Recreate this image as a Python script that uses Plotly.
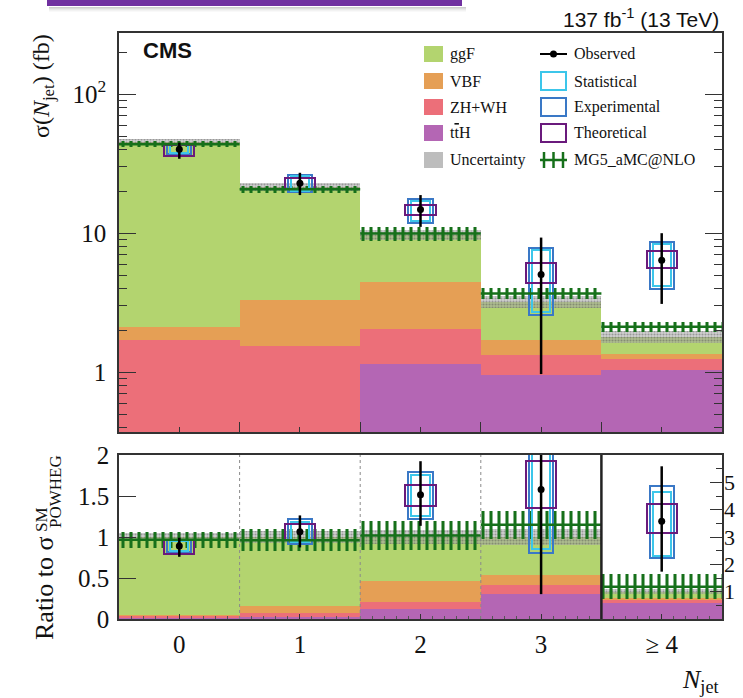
import numpy as np
import plotly.graph_objects as go

W, H = 743, 698

categories = ["0", "1", "2", "3", "≥ 4"]

# POWHEG prediction per production mode (fb)
tth = [0.15, 0.30, 1.14, 0.96, 1.03]
zh_wh = [1.55, 1.24, 0.92, 0.36, 0.21]
vbf = [0.41, 1.79, 2.41, 0.38, 0.12]
ggf = [43.1, 18.2, 5.3, 1.5, 0.43]
pred_unc_rel = [0.05, 0.07, 0.08, 0.10, 0.10]

# MG5_aMC@NLO prediction (fb) and its band half-widths (relative)
mg5 = [43.7, 20.7, 9.95, 3.68, 2.12]
mg5_unc_rel = [0.05, 0.06, 0.12, 0.09, 0.08]
mg5_ratio_unc_rel = [0.10, 0.14, 0.17, 0.15, 0.39]

# Measured cross sections (fb) with total uncertainty
observed = [40.2, 22.9, 14.8, 5.05, 6.4]
obs_lo = [34.3, 18.8, 11.1, 0.97, 3.1]
obs_hi = [44.8, 27.2, 18.8, 9.3, 10.0]

# Uncertainty components (lower / upper edge, fb)
stat_lo = [37.5, 20.2, 12.3, 2.72, 4.15]
stat_hi = [43.0, 25.6, 17.1, 7.55, 8.35]
exp_lo = [37.0, 19.7, 11.9, 2.57, 3.97]
exp_hi = [43.5, 26.2, 17.5, 7.84, 8.70]
theo_lo = [35.8, 20.7, 13.5, 4.35, 5.60]
theo_hi = [43.3, 25.0, 16.0, 6.15, 7.50]

C_GGF = "#b3d46f"
C_VBF = "#e59f55"
C_ZH = "#ec6f79"
C_TTH = "#b466b4"
C_STAT = "#3cc6ea"
C_EXP = "#3a78c6"
C_THEO = "#6a1a7c"
C_MG5 = "#16701a"
SERIF = "Liberation Serif"
SANS = "Liberation Sans"

x = np.arange(len(categories))
lvl_tth = np.array(tth)
lvl_zh = lvl_tth + np.array(zh_wh)
lvl_vbf = lvl_zh + np.array(vbf)
total = lvl_vbf + np.array(ggf)
u = np.array(pred_unc_rel)
mg = np.array(mg5)
obs = np.array(observed)


def px(v):
    return v / W


def py(v):
    return 1 - v / H


fig = go.Figure()


def draw(sel, norm, xa, ya, mg_rel):
    xs = x[sel]

    def n(a):
        return (np.asarray(a, dtype=float) / norm)[sel]

    common = dict(xaxis=xa, yaxis=ya, showlegend=False, hoverinfo="skip")
    # stacked production modes, drawn as cumulative levels back to front
    for level, col in [(total, C_GGF), (lvl_vbf, C_VBF), (lvl_zh, C_ZH), (lvl_tth, C_TTH)]:
        fig.add_trace(go.Bar(x=xs, y=n(level), width=1,
                             marker=dict(color=col, line=dict(width=0)), **common))
    # prediction uncertainty band
    fig.add_trace(go.Bar(x=xs, base=n(total * (1 - u)), y=n(2 * total * u), width=1,
                         marker=dict(color="rgba(170,170,170,0.55)", line=dict(width=0),
                                     pattern=dict(shape=".", fgcolor="rgba(70,70,70,0.8)",
                                                  size=3, solidity=0.4)),
                         **common))
    # MG5_aMC@NLO band (vertical hatching) and central value
    r = np.array(mg_rel)
    fig.add_trace(go.Bar(x=xs, base=n(mg * (1 - r)), y=n(2 * mg * r), width=1,
                         marker=dict(color="rgba(0,0,0,0)", line=dict(width=0),
                                     pattern=dict(shape="|", fgcolor=C_MG5, fgopacity=1,
                                                  bgcolor="rgba(0,0,0,0)",
                                                  size=8, solidity=0.38, fillmode="replace")),
                         **common))
    seg_x, seg_y = [], []
    for xi, yi in zip(xs, n(mg)):
        seg_x += [xi - 0.5, xi + 0.5, None]
        seg_y += [yi, yi, None]
    fig.add_trace(go.Scatter(x=seg_x, y=seg_y, mode="lines",
                             line=dict(color=C_MG5, width=2.5), **common))
    # uncertainty component boxes
    for lo, hi, col, wd in [(exp_lo, exp_hi, C_EXP, 0.20), (stat_lo, stat_hi, C_STAT, 0.15),
                            (theo_lo, theo_hi, C_THEO, 0.25)]:
        lo_n, hi_n = n(lo), n(hi)
        fig.add_trace(go.Bar(x=xs, base=lo_n, y=hi_n - lo_n, width=wd,
                             marker=dict(color="rgba(0,0,0,0)", line=dict(color=col, width=2)),
                             **common))
    # observed points
    v = n(obs)
    fig.add_trace(go.Scatter(x=xs, y=v, mode="markers",
                             marker=dict(color="black", size=7),
                             error_y=dict(type="data", symmetric=False,
                                          array=n(obs_hi) - v, arrayminus=v - n(obs_lo),
                                          color="black", thickness=2.5, width=0),
                             **common))


all_bins = np.ones(len(x), dtype=bool)
draw(all_bins, 1.0, "x", "y", mg5_unc_rel)
first = x < len(x) - 1
draw(first, total, "x2", "y2", mg5_ratio_unc_rel)
draw(~first, total, "x2", "y3", mg5_ratio_unc_rel)

x_left, x_right = px(119), px(722)
edges = list(x[:-1] + 0.5)

axis_line = dict(showline=True, linecolor="#333", linewidth=1.6, showgrid=False,
                 zeroline=False, automargin=False)

minor_log = [m * 10.0 ** e for e in (-1, 0, 1, 2) for m in range(2, 10) if 0.37 < m * 10.0 ** e < 275]

fig.update_layout(
    width=W, height=H, margin=dict(l=0, r=0, t=0, b=0),
    paper_bgcolor="white", plot_bgcolor="white",
    barmode="overlay", bargap=0, showlegend=False,
    font=dict(family=SERIF, color="#111"),
    xaxis=dict(domain=[x_left, x_right], anchor="y", range=[-0.5, 4.5], mirror=True,
               ticks="inside", tickvals=edges, ticklen=10, tickcolor="#333",
               showticklabels=False,
               minor=dict(tickvals=list(x), ticks="inside", ticklen=5, tickcolor="#333"),
               **axis_line),
    yaxis=dict(domain=[py(432), py(33)], anchor="x", type="log", range=[-0.43, 2.44],
               mirror="ticks", ticks="inside", ticklen=17, tickcolor="#333",
               tickvals=[1, 10, 100], ticktext=["1", "10", "10<sup>2</sup>"],
               tickfont=dict(size=25, family=SERIF), ticklabelstandoff=6,
               minor=dict(tickvals=minor_log, ticks="inside", ticklen=8, tickcolor="#333"),
               **axis_line),
    xaxis2=dict(domain=[x_left, x_right], anchor="y2", range=[-0.5, 4.5], mirror=True,
                ticks="inside", tickvals=list(x), ticktext=categories, ticklen=5,
                tickcolor="#333", tickfont=dict(size=25, family=SERIF), ticklabelstandoff=2,
                minor=dict(dtick=0.1, tick0=-0.5, ticks="inside", ticklen=3, tickcolor="#555"),
                **axis_line),
    yaxis2=dict(domain=[py(619), py(455)], anchor="x2", range=[0, 2], mirror=True,
                ticks="inside", ticklen=17, tickcolor="#333",
                tickvals=[0, 0.5, 1, 1.5, 2], ticktext=["0", "0.5", "1", "1.5", "2"],
                tickfont=dict(size=25, family=SERIF), ticklabelstandoff=3,
                **axis_line),
    yaxis3=dict(overlaying="y2", anchor="x2", side="right", range=[0, 6],
                ticks="inside", ticklen=12, tickcolor="#333",
                tickvals=[1, 2, 3, 4, 5], tickfont=dict(size=22, family=SERIF),
                ticklabelstandoff=1, showgrid=False, zeroline=False, showline=False,
                automargin=False,
                minor=dict(tickvals=[0.5, 1.5, 2.5, 3.5, 4.5, 5.5], ticks="inside",
                           ticklen=6, tickcolor="#333")),
)

shapes = []
# bin separators in the ratio panel
for e in edges[:-1]:
    shapes.append(dict(type="line", xref="x2", yref="y2 domain", x0=e, x1=e, y0=0, y1=1,
                       line=dict(color="#8a8a8a", width=1, dash="dot"), layer="above"))
shapes.append(dict(type="line", xref="x2", yref="y2 domain", x0=edges[-1], x1=edges[-1],
                   y0=0, y1=1, line=dict(color="#222", width=2.5), layer="above"))

# header banner with soft shadow
for i, a in enumerate([0.30, 0.22, 0.14, 0.08, 0.04]):
    shapes.append(dict(type="rect", xref="paper", yref="paper", x0=px(49), x1=px(466),
                       y0=py(7 + i + 1), y1=py(7 + i), fillcolor=f"rgba(90,90,90,{a})",
                       line=dict(width=0), layer="below"))
shapes.append(dict(type="rect", xref="paper", yref="paper", x0=px(47), x1=px(462),
                   y0=py(6), y1=py(0), fillcolor="#7030a0", line=dict(width=0)))

# legend, first column: filled swatches
legend_rows = [54, 81, 107, 133, 160]
for yy, col in zip(legend_rows[:4], [C_GGF, C_VBF, C_ZH, C_TTH]):
    shapes.append(dict(type="rect", xref="paper", yref="paper", x0=px(424), x1=px(443),
                       y0=py(yy + 8), y1=py(yy - 8), fillcolor=col, line=dict(width=0)))
shapes.append(dict(type="rect", xref="paper", yref="paper", x0=px(424), x1=px(443),
                   y0=py(legend_rows[4] + 8), y1=py(legend_rows[4] - 8),
                   fillcolor="#bdbdbd", line=dict(width=0)))
# legend, second column
yo = legend_rows[0]
shapes.append(dict(type="line", xref="paper", yref="paper", x0=px(540), x1=px(567),
                   y0=py(yo), y1=py(yo), line=dict(color="black", width=2)))
shapes.append(dict(type="circle", xref="paper", yref="paper", x0=px(550), x1=px(557),
                   y0=py(yo + 3.5), y1=py(yo - 3.5), fillcolor="black", line=dict(width=0)))
for yy, col in zip(legend_rows[1:4], [C_STAT, C_EXP, C_THEO]):
    shapes.append(dict(type="rect", xref="paper", yref="paper", x0=px(541), x1=px(566),
                       y0=py(yy + 9), y1=py(yy - 9), line=dict(color=col, width=2)))
ym = legend_rows[4]
shapes.append(dict(type="line", xref="paper", yref="paper", x0=px(540), x1=px(567),
                   y0=py(ym), y1=py(ym), line=dict(color=C_MG5, width=2.5)))
for xt in (544, 553.5, 563):
    shapes.append(dict(type="line", xref="paper", yref="paper", x0=px(xt), x1=px(xt),
                       y0=py(ym + 8), y1=py(ym - 8), line=dict(color=C_MG5, width=2.5)))
fig.update_layout(shapes=shapes)

ann = []
legend_text = [("ggF", 448, legend_rows[0]), ("VBF", 448, legend_rows[1]),
               ("ZH+WH", 448, legend_rows[2]), ("t<span style='text-decoration:overline'>t</span>H", 448, legend_rows[3]),
               ("Uncertainty", 448, legend_rows[4]),
               ("Observed", 572, legend_rows[0]), ("Statistical", 572, legend_rows[1]),
               ("Experimental", 572, legend_rows[2]), ("Theoretical", 572, legend_rows[3]),
               ("MG5_aMC@NLO", 572, legend_rows[4])]
for txt, xx, yy in legend_text:
    ann.append(dict(text=txt, x=px(xx), y=py(yy), xref="paper", yref="paper",
                    xanchor="left", yanchor="middle", showarrow=False,
                    font=dict(family=SERIF, size=16, color="#111")))

ann += [
    dict(text="137 fb<sup>-1</sup> (13 TeV)", x=px(721), y=py(18), xref="paper", yref="paper",
         xanchor="right", yanchor="middle", showarrow=False,
         font=dict(family=SANS, size=21, color="#111")),
    dict(text="<b>CMS</b>", x=px(141), y=py(51), xref="paper", yref="paper",
         xanchor="left", yanchor="middle", showarrow=False,
         font=dict(family=SANS, size=22, color="#111")),
    dict(text="σ(<i>N</i><sub>jet</sub>) (fb)", x=px(43), y=py(86), xref="paper", yref="paper",
         xanchor="center", yanchor="middle", textangle=-90, showarrow=False,
         font=dict(family=SERIF, size=24, color="#111")),
    dict(text="Ratio to σ", x=px(44), y=py(588), xref="paper", yref="paper",
         xanchor="center", yanchor="middle", textangle=-90, showarrow=False,
         font=dict(family=SERIF, size=26, color="#111")),
    dict(text="SM", x=px(41), y=py(520), xref="paper", yref="paper",
         xanchor="center", yanchor="middle", textangle=-90, showarrow=False,
         font=dict(family=SERIF, size=17, color="#111")),
    dict(text="POWHEG", x=px(55), y=py(492), xref="paper", yref="paper",
         xanchor="center", yanchor="middle", textangle=-90, showarrow=False,
         font=dict(family=SERIF, size=17, color="#111")),
    dict(text="<i>N</i><sub>jet</sub>", x=px(721), y=py(681), xref="paper", yref="paper",
         xanchor="right", yanchor="middle", showarrow=False,
         font=dict(family=SERIF, size=26, color="#111")),
]
fig.update_layout(annotations=ann)

fig.write_html("out.html")
